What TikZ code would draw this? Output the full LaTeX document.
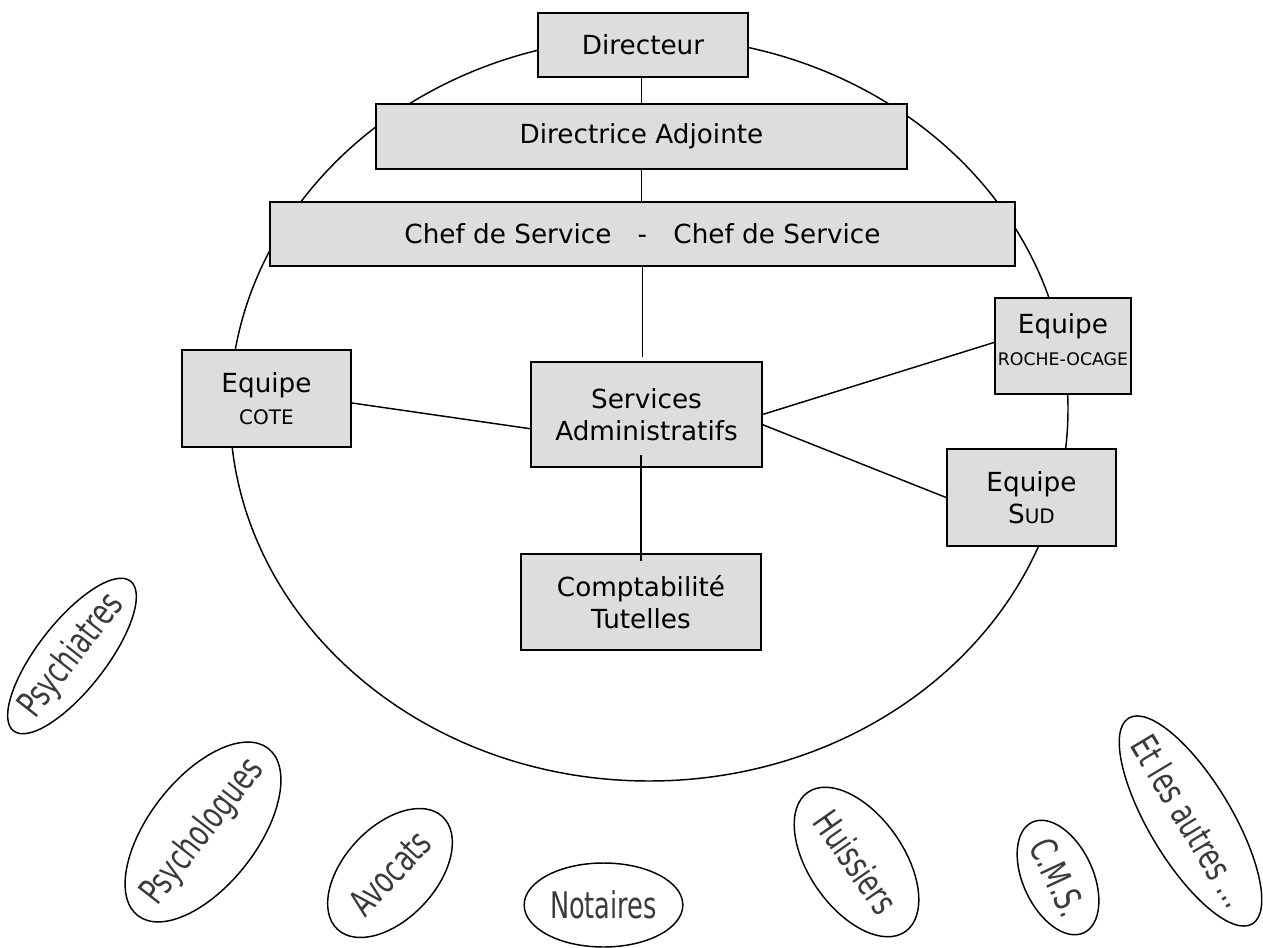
\documentclass[tikz,border=0pt]{standalone}
\usepackage{fontspec}
\setmainfont{DejaVu Sans}
\newfontfamily\narrowfont[FakeStretch=0.7]{DejaVu Sans}
\usetikzlibrary{shapes.geometric}
\definecolor{boxgray}{HTML}{DDDDDD}
\definecolor{labelgray}{HTML}{3A3A3A}
\newcommand{\squeeze}[1]{\makebox[0pt]{#1}}
\newcommand{\smallcap}[1]{{\fontsize{15}{18}\selectfont #1}}

\begin{document}
\begin{tikzpicture}[x=0.75pt, y=-0.75pt, line width=1.1pt,
  box/.style={draw, fill=boxgray, inner sep=0pt, align=center, font=\fontsize{19.7}{24}\selectfont},
  outer/.style={draw, ellipse, inner sep=0pt, text=labelgray, font=\narrowfont\fontsize{27.5}{30}\selectfont}]
\useasboundingbox (0,0) rectangle (1263,948);
\draw (649,409) ellipse [x radius=314.25pt, y radius=279pt];
\node[box, minimum width=157.5pt, minimum height=48pt] (dir) at (643,45) {Directeur};
\node[box, minimum width=398pt, minimum height=48.75pt] (adj) at (641.5,136.5) {Directrice Adjointe};
\node[box, minimum width=559pt, minimum height=48pt] (chef) at (642.5,234) {Chef de Service\quad-\quad Chef de Service};
\node[box, minimum width=173pt, minimum height=79pt] (serv) at (646.5,414.5) {Services\\Administratifs};
\node[box, minimum width=180pt, minimum height=72pt] (comp) at (641,602) {Comptabilité\\Tutelles};
\node[box, minimum width=127pt, minimum height=73pt] (cote) at (266.5,398.5) {Equipe\\\smallcap{COTE}};
\node[box, minimum width=102pt, minimum height=72pt, text depth=10pt] (roche) at (1063,346) {Equipe\\{\fontsize{13}{16}\selectfont ROCHE-OCAGE}};
\node[box, minimum width=127pt, minimum height=73pt] (sud) at (1031.5,497.5) {Equipe\\S\smallcap{UD}};
\draw (adj.north) -- (adj.north |- dir.south);
\draw (adj.south) -- (adj.south |- chef.north);
\draw [shorten >=3pt] (chef.south) -- (chef.south |- serv.north);
\draw [shorten <=-6pt, shorten >=-10pt] (comp.north) -- (comp.north |- serv.south);
\draw (cote.-3) -- (serv.187);
\draw (serv.east) -- (roche.177);
\draw (serv.-5) -- (sud.west);
\node[outer, minimum width=142.5pt, minimum height=51pt, rotate=52] (psychiatres) at (72,656) {\squeeze{Psychiatres}};
\node[outer, minimum width=159pt, minimum height=81pt, rotate=52] (psychologues) at (203,832) {\squeeze{Psychologues}};
\node[outer, minimum width=115.5pt, minimum height=69pt, rotate=47] (avocats) at (390,873) {\squeeze{Avocats}};
\node[outer, minimum width=119pt, minimum height=63pt] (notaires) at (603.5,905) {\squeeze{Notaires}};
\node[outer, minimum width=127.5pt, minimum height=71pt, rotate=-55] (huissiers) at (856.5,862) {\squeeze{Huissiers}};
\node[outer, minimum width=91.5pt, minimum height=52.5pt, rotate=-65] (cms) at (1058,877.5) {\squeeze{C.M.S.}};
\node[outer, minimum width=180pt, minimum height=62pt, rotate=-59] (autres) at (1190.5,821) {\squeeze{Et les autres ...}};
\end{tikzpicture}
\end{document}
